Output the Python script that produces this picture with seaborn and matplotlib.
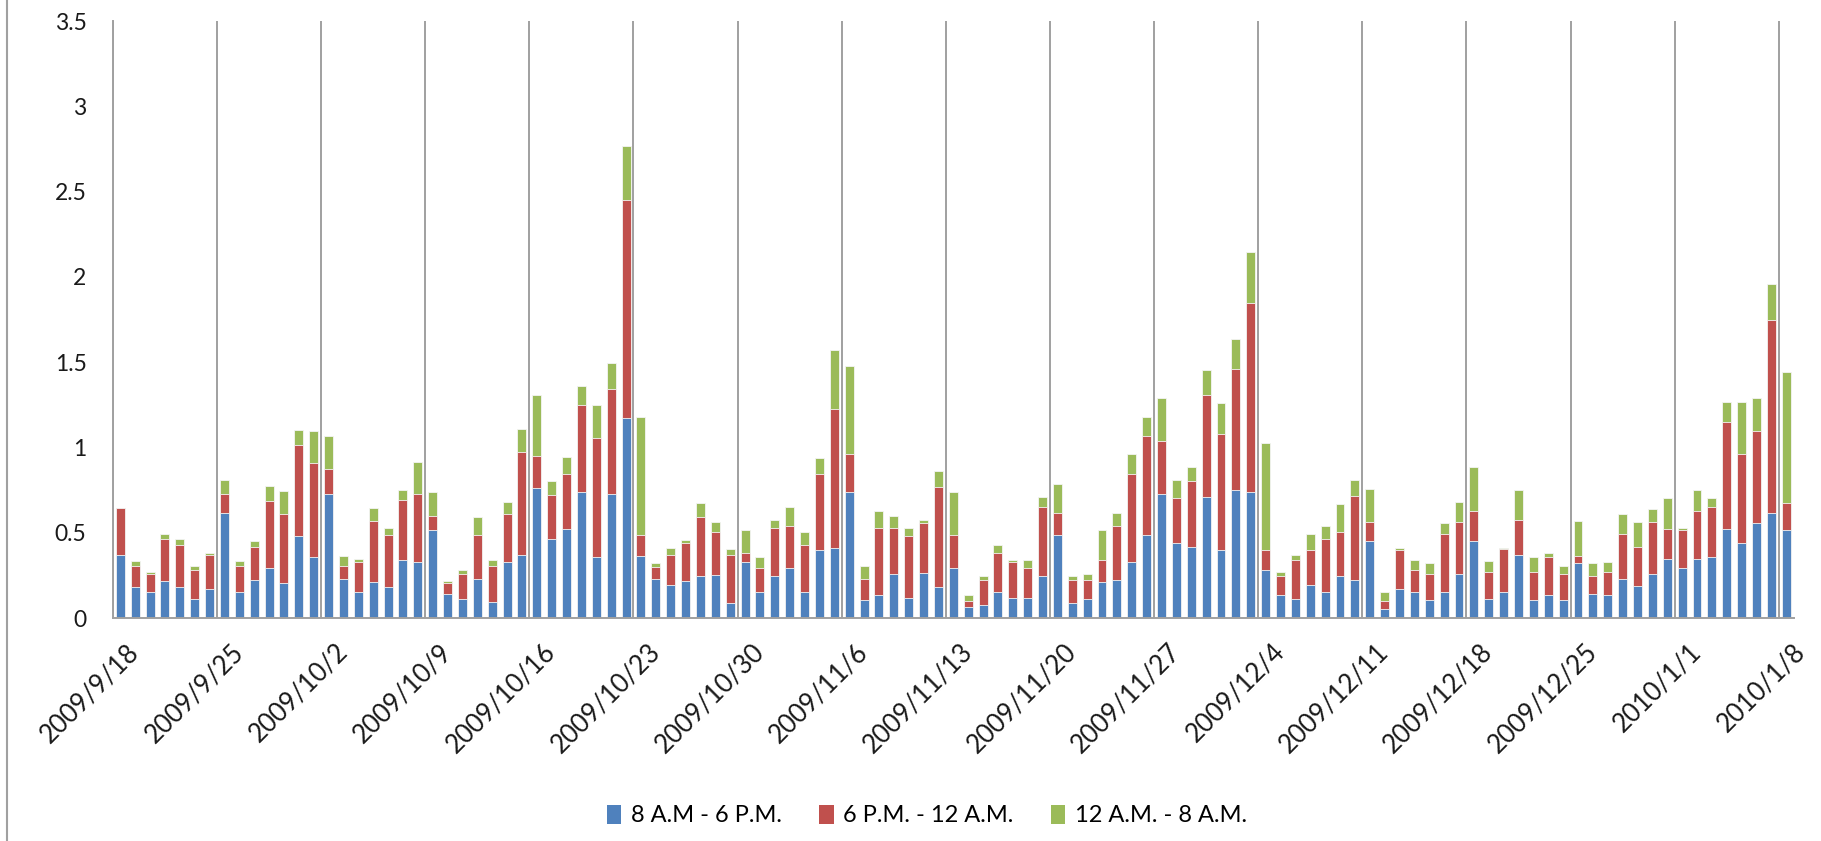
import pandas as pd
import numpy as np
import seaborn as sns
import matplotlib.pyplot as plt
import matplotlib.transforms as mtrans
from matplotlib.patches import Patch
from matplotlib.lines import Line2D

# daily values, 2009/9/18 .. 2010/1/8
day_vals = [0.373, 0.18, 0.151, 0.215, 0.18, 0.11, 0.168,
            0.615, 0.156, 0.223, 0.292, 0.208, 0.479, 0.359,
            0.728, 0.232, 0.151, 0.211, 0.18, 0.338, 0.33,
            0.517, 0.139, 0.11, 0.232, 0.096, 0.33, 0.373,
            0.764, 0.464, 0.524, 0.742, 0.359, 0.728, 1.173,
            0.366, 0.232, 0.192, 0.215, 0.247, 0.254, 0.089,
            0.33, 0.151, 0.247, 0.292, 0.151, 0.397, 0.412,
            0.742, 0.105, 0.134, 0.256, 0.117, 0.263, 0.18,
            0.292, 0.065, 0.077, 0.151, 0.117, 0.117, 0.247,
            0.488, 0.089, 0.11, 0.211, 0.223, 0.33, 0.488,
            0.728, 0.44, 0.419, 0.711, 0.397, 0.752, 0.742,
            0.285, 0.134, 0.11, 0.192, 0.156, 0.247, 0.223,
            0.455, 0.053, 0.17, 0.151, 0.105, 0.156, 0.261,
            0.455, 0.11, 0.156, 0.373, 0.105, 0.134, 0.105,
            0.321, 0.141, 0.134, 0.232, 0.187, 0.261, 0.345,
            0.292, 0.345, 0.359, 0.524, 0.443, 0.555, 0.615,
            0.517]
evening_vals = [0.271, 0.126, 0.110, 0.249, 0.246, 0.175, 0.205,
                0.113, 0.150, 0.196, 0.393, 0.400, 0.536, 0.551,
                0.148, 0.074, 0.177, 0.359, 0.306, 0.352, 0.398,
                0.082, 0.069, 0.151, 0.254, 0.210, 0.278, 0.601,
                0.186, 0.256, 0.323, 0.505, 0.699, 0.615, 1.279,
                0.122, 0.067, 0.181, 0.228, 0.344, 0.249, 0.284,
                0.053, 0.141, 0.284, 0.247, 0.275, 0.450, 0.814,
                0.220, 0.127, 0.397, 0.275, 0.362, 0.292, 0.591,
                0.196, 0.033, 0.146, 0.230, 0.211, 0.175, 0.404,
                0.127, 0.134, 0.113, 0.127, 0.316, 0.517, 0.577,
                0.309, 0.264, 0.383, 0.596, 0.685, 0.706, 1.106,
                0.112, 0.113, 0.228, 0.205, 0.308, 0.256, 0.490,
                0.108, 0.045, 0.227, 0.134, 0.151, 0.340, 0.302,
                0.175, 0.158, 0.249, 0.204, 0.163, 0.225, 0.156,
                0.045, 0.106, 0.137, 0.264, 0.232, 0.302, 0.179,
                0.225, 0.285, 0.292, 0.623, 0.519, 0.544, 1.135,
                0.158]
night_vals = [0.0, 0.029, 0.009, 0.032, 0.038, 0.021, 0.010,
              0.081, 0.029, 0.031, 0.088, 0.137, 0.089, 0.189,
              0.189, 0.060, 0.017, 0.074, 0.045, 0.062, 0.187,
              0.143, 0.010, 0.024, 0.108, 0.036, 0.074, 0.134,
              0.357, 0.082, 0.099, 0.113, 0.189, 0.153, 0.315,
              0.690, 0.022, 0.039, 0.014, 0.084, 0.060, 0.032,
              0.134, 0.067, 0.046, 0.112, 0.077, 0.091, 0.345,
              0.518, 0.074, 0.099, 0.068, 0.052, 0.020, 0.091,
              0.254, 0.036, 0.024, 0.045, 0.014, 0.050, 0.060,
              0.173, 0.024, 0.038, 0.179, 0.076, 0.115, 0.113,
              0.256, 0.105, 0.084, 0.149, 0.180, 0.180, 0.299,
              0.630, 0.021, 0.035, 0.099, 0.075, 0.165, 0.096,
              0.194, 0.053, 0.015, 0.057, 0.065, 0.059, 0.119,
              0.256, 0.067, 0.007, 0.175, 0.091, 0.022, 0.045,
              0.204, 0.074, 0.059, 0.112, 0.144, 0.074, 0.180,
              0.014, 0.122, 0.053, 0.122, 0.307, 0.194, 0.211,
              0.766]

series_names = ['8 A.M - 6 P.M.', '6 P.M. - 12 A.M.', '12 A.M. - 8 A.M.']
colors = ['#4F81BD', '#C0504D', '#9BBB59']

dates = pd.date_range('2009-09-18', '2010-01-08', freq='D')
labels = [f'{d.year}/{d.month}/{d.day}' for d in dates]

df = pd.DataFrame({'date': labels, 'day': day_vals,
                   'evening': evening_vals, 'night': night_vals})
df['top_red'] = df['day'] + df['evening']
df['top_green'] = df['top_red'] + df['night']

plt.rcParams['font.family'] = ['Lato', 'DejaVu Sans']

fig = plt.figure(figsize=(18.21, 8.41), dpi=100)
ax = fig.add_axes([0.062, 0.265, 0.923, 0.71])

# stacked bars: draw the totals first, then overlay the lower parts
for col, c in zip(['top_green', 'top_red', 'day'], colors[::-1]):
    sns.barplot(data=df, x='date', y=col, color=c, saturation=1, width=0.6,
                errorbar=None, edgecolor='#f4f4f4', linewidth=0.6, ax=ax)

# weekly vertical grid lines between categories
for i in range(0, len(dates) + 1, 7):
    ax.axvline(i - 0.5, color='#a0a0a0', lw=1.4, zorder=0)

ax.set_xlim(-0.5, len(dates) - 0.5)
ax.set_ylim(0, 3.5)
ax.set_yticks(np.arange(0, 3.51, 0.5))
ax.set_yticklabels(['0', '0.5', '1', '1.5', '2', '2.5', '3', '3.5'], fontsize=16.5, color='#1a1a1a')
ticks = list(range(0, len(dates), 7))
ax.set_xticks(ticks)
ax.set_xticklabels([labels[t] for t in ticks], rotation=45, ha='right',
                   rotation_mode='anchor', fontsize=18.5, color='#1a1a1a')
ax.tick_params(axis='y', length=0, pad=19)
ax.tick_params(axis='x', length=0, pad=15)
shift = mtrans.ScaledTranslation(0.06, 0, fig.dpi_scale_trans)
for lab in ax.get_xticklabels():
    lab.set_transform(lab.get_transform() + shift)
ax.set_xlabel('')
ax.set_ylabel('')
for s in ['top', 'right']:
    ax.spines[s].set_visible(False)
for s in ['left', 'bottom']:
    ax.spines[s].set_color('#a0a0a0')
    ax.spines[s].set_linewidth(1.4)

handles = [Patch(facecolor=c, edgecolor='none') for c in colors]
fig.legend(handles, series_names, loc='lower center', bbox_to_anchor=(0.509, -0.008),
           ncol=3, frameon=False, fontsize=17, handlelength=0.6, handleheight=0.9,
           handletextpad=0.4, columnspacing=1.6)

fig.add_artist(Line2D([0.004, 0.004], [0, 1], color='#a0a0a0', lw=1.5))

plt.savefig('out.png', dpi=100)
